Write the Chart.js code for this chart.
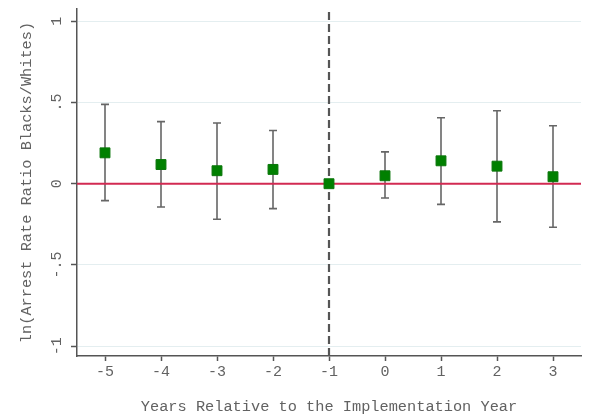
<!DOCTYPE html>
<html>
<head>
<meta charset="utf-8">
<script src="https://cdn.jsdelivr.net/npm/chart.js@4/dist/chart.umd.min.js"></script>
<style>
  html, body { margin: 0; padding: 0; background: #ffffff; }
  #wrap { width: 589px; height: 418px; }
</style>
</head>
<body>
<div id="wrap"><canvas id="c" width="589" height="418"></canvas></div>
<script>
// ---- data ----
const years = [-5, -4, -3, -2, -1, 0, 1, 2, 3];
const coef  = [0.190, 0.118, 0.080, 0.088, 0.000, 0.049, 0.141, 0.108, 0.043];
const upper = [0.488, 0.382, 0.374, 0.327, null, 0.196, 0.406, 0.449, 0.357];
const lower = [-0.104, -0.143, -0.219, -0.153, null, -0.088, -0.127, -0.235, -0.268];
const yTickValues = [-1, -0.5, 0, 0.5, 1];
const yTickLabels = ["-1", "-.5", "0", ".5", "1"];
const xTickLabels = ["-5", "-4", "-3", "-2", "-1", "0", "1", "2", "3"];
const referenceYear = -1;
const xRange = [-5.5, 3.5];
const yRange = [-1.06, 1.075];

const FONT = "'Liberation Mono', 'DejaVu Sans Mono', monospace";
const TXT = '#626262';

const errorBars = {
  id: 'errorBars',
  beforeDatasetsDraw(chart) {
    const { ctx, scales: { x, y } } = chart;
    ctx.save();
    ctx.strokeStyle = '#666666';
    ctx.lineWidth = 1.6;
    years.forEach((yr, i) => {
      if (upper[i] == null || lower[i] == null) return;
      const px = x.getPixelForValue(yr);
      const pu = y.getPixelForValue(upper[i]);
      const pl = y.getPixelForValue(lower[i]);
      ctx.beginPath();
      ctx.moveTo(px, pu); ctx.lineTo(px, pl);
      ctx.moveTo(px - 4, pu); ctx.lineTo(px + 4, pu);
      ctx.moveTo(px - 4, pl); ctx.lineTo(px + 4, pl);
      ctx.stroke();
    });
    ctx.restore();
  }
};

new Chart(document.getElementById('c'), {
  type: 'scatter',
  data: {
    datasets: [
      {
        label: 'coef',
        data: years.map((v, i) => ({ x: v, y: coef[i] })),
        showLine: false,
        pointStyle: 'rect',
        pointRadius: 7,
        pointBackgroundColor: '#008000',
        pointBorderColor: '#0a760a',
        pointBorderWidth: 1,
        order: 1
      },
      {
        label: 'ref',
        data: [{ x: referenceYear, y: yRange[0] }, { x: referenceYear, y: yRange[1] }],
        showLine: true,
        borderColor: '#555555',
        borderWidth: 2.2,
        borderDash: [8, 4],
        pointRadius: 0,
        order: 2
      },
      {
        label: 'zero',
        data: [{ x: xRange[0], y: 0 }, { x: xRange[1], y: 0 }],
        showLine: true,
        borderColor: '#d22a52',
        borderWidth: 2,
        pointRadius: 0,
        order: 3
      }
    ]
  },
  options: {
    responsive: false,
    animation: false,
    layout: { padding: { left: 0, right: 6, top: 6, bottom: 0 } },
    plugins: { legend: { display: false }, tooltip: { enabled: false } },
    scales: {
      x: {
        type: 'linear',
        min: xRange[0],
        max: xRange[1],
        afterBuildTicks(scale) { scale.ticks = years.map(v => ({ value: v })); },
        afterFit(scale) { scale.height = 62; },
        ticks: {
          callback: (v) => xTickLabels[years.indexOf(v)],
          color: TXT,
          font: { family: FONT, size: 15 },
          padding: 2,
          maxRotation: 0,
          minRotation: 0
        },
        grid: { drawOnChartArea: false, drawTicks: true, tickLength: 5, tickColor: '#555555', tickWidth: 1.5 },
        border: { display: true, color: '#555555', width: 1.5 },
        title: {
          display: true,
          text: 'Years Relative to the Implementation Year',
          color: TXT,
          font: { family: FONT, size: 15.3 },
          padding: { top: 0, bottom: 2 }
        }
      },
      y: {
        type: 'linear',
        min: yRange[0],
        max: yRange[1],
        afterBuildTicks(scale) { scale.ticks = yTickValues.map(v => ({ value: v })); },
        afterFit(scale) { scale.width = 77; },
        ticks: {
          callback: (v) => yTickLabels[yTickValues.indexOf(v)],
          color: TXT,
          font: { family: FONT, size: 15 },
          padding: 0,
          minRotation: 90,
          maxRotation: 90,
          crossAlign: 'center'
        },
        grid: { color: '#e4eef0', lineWidth: 1, drawTicks: true, tickLength: 6, tickColor: '#555555', tickWidth: 1.5 },
        border: { display: true, color: '#555555', width: 1.5 },
        title: {
          display: true,
          text: 'ln(Arrest Rate Ratio Blacks/Whites)',
          color: TXT,
          font: { family: FONT, size: 15.3 },
          padding: { top: 18, bottom: 18 }
        }
      }
    }
  },
  plugins: [errorBars]
});
</script>
</body>
</html>
